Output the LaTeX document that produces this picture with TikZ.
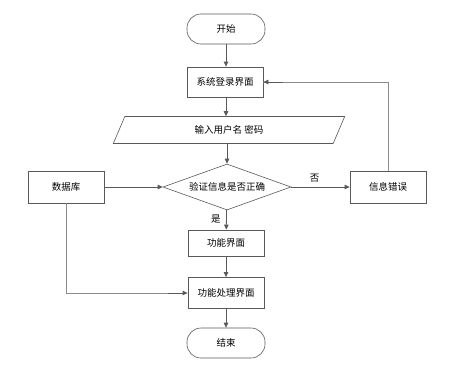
\documentclass[tikz,border=0pt]{standalone}
\usepackage{fontspec}
\newfontfamily\cjk{Noto Sans CJK SC}
\usetikzlibrary{arrows.meta,shapes.geometric,calc}
\begin{document}
\begin{tikzpicture}[x=1pt,y=-1pt,
  font=\cjk\fontsize{9.5}{11}\selectfont,
  box/.style={draw=black!65,line width=0.8pt,fill=white,minimum width=76pt,minimum height=28pt,inner sep=0pt},
  term/.style={draw=black!65,line width=0.6pt,fill=white,rounded corners=14pt,minimum width=78pt,minimum height=30pt,inner sep=0pt},
  dia/.style={draw=black!65,line width=0.6pt,fill=white,diamond,aspect=2.78,minimum width=128pt,minimum height=46pt,inner sep=0pt},
  para/.style={draw=black!65,line width=0.6pt,fill=white,trapezium,trapezium left angle=67,trapezium right angle=113,minimum width=138pt,minimum height=27pt,inner sep=0pt},
  arr/.style={draw=black!65,line width=0.8pt,-{Triangle[length=5pt,width=4.5pt]}},
  ln/.style={draw=black!45,line width=0.9pt},
  lab/.style={font=\cjk\fontsize{9.5}{11}\selectfont}]
\useasboundingbox (0,0) rectangle (471,364);
\node[term] (start) at (226,29) {开始};
\node[box,minimum height=30pt] (login) at (225,82) {系统登录界面};
\node[para] (input) at (229,130) {输入用户名 密码};
\node[dia] (check) at (227,187) {验证信息是否正确};
\node[box,minimum height=32pt] (db) at (66,187) {数据库};
\node[box,minimum height=32pt] (err) at (388,187) {信息错误};
\node[box,minimum height=26pt] (func) at (226,243) {功能界面};
\node[box,minimum height=31pt] (proc) at (226,293) {功能处理界面};
\node[term] (end) at (226,343) {结束};
\draw[arr] (start) -- (start|-login.north);
\draw[arr] (login.south-|226,0) -- (input.north-|226,0);
\draw[arr] (input.south-|227,0) -- (check.north);
\draw[arr] (db) -- (check);
\draw[arr] (check) -- node[lab,above,pos=0.4,yshift=1pt] {否} (err);
\draw[arr] (check) -- node[lab,left,pos=0.45,xshift=-2pt] {是} (func);
\draw[arr] (func) -- (proc);
\draw[arr] (proc) -- (end);
\draw[ln] (err.north) |- (login.east);
\draw[arr] ($(login.east)+(20,0)$) -- (login.east);
\draw[ln] (db.south) |- ($(proc.west)+(-20,0)$);
\draw[arr] ($(proc.west)+(-20,0)$) -- (proc.west);
\end{tikzpicture}
\end{document}
